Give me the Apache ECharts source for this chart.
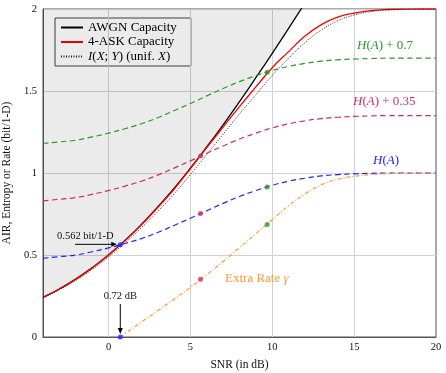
<!DOCTYPE html>
<html>
<head>
<meta charset="utf-8">
<script src="https://cdn.jsdelivr.net/npm/echarts@6/dist/echarts.min.js"></script>
<style>html,body{margin:0;padding:0;background:#fff;}#c{width:446px;height:373px;}</style>
</head>
<body>
<div id="c"></div>
<script>
// ---- data ----
const snr = [-4,-3,-2,-1,0,1,2,3,4,5,6,7,8,9,10,11,12,13,14,15,16,17,18,19,20];
const awgnSnr = [-4,-3,-2,-1,0,1,2,3,4,5,6,7,8,9,10,11,12];
const awgnCap = [0.242,0.293,0.353,0.422,0.500,0.588,0.685,0.792,0.906,1.029,1.159,1.294,1.435,1.581,1.730,1.882,2.037];
const askCap = [0.242,0.293,0.352,0.421,0.499,0.586,0.683,0.789,0.900,1.027,1.155,1.280,1.405,1.525,1.642,1.740,1.835,1.905,1.950,1.975,1.990,1.997,1.999,2.0,2.0];
const unifMI = [0.238,0.288,0.345,0.412,0.488,0.573,0.665,0.765,0.872,0.990,1.112,1.237,1.360,1.478,1.595,1.700,1.795,1.872,1.928,1.963,1.984,1.994,1.998,2.0,2.0];
const hA = [0.48,0.49,0.50,0.52,0.543,0.57,0.60,0.637,0.68,0.724,0.77,0.815,0.857,0.893,0.925,0.95,0.968,0.982,0.99,0.995,0.998,1.0,1.0,1.0,1.0];
const hA035 = [0.83,0.84,0.85,0.87,0.893,0.92,0.95,0.987,1.03,1.074,1.12,1.165,1.207,1.243,1.275,1.30,1.318,1.332,1.34,1.345,1.348,1.35,1.35,1.35,1.35];
const hA07 = [1.18,1.19,1.20,1.22,1.243,1.27,1.30,1.337,1.38,1.424,1.47,1.515,1.557,1.593,1.625,1.65,1.668,1.682,1.69,1.695,1.698,1.70,1.70,1.70,1.70];
const gammaSnr = [0.72,1,2,3,4,5,6,7,8,9,10,11,12,13,14,15,16,17,18,19,20];
const gamma = [0,0.02,0.09,0.16,0.23,0.303,0.38,0.46,0.545,0.63,0.715,0.80,0.872,0.928,0.962,0.98,0.99,0.996,0.999,1.0,1.0];
const dotX = [0.72,0.72,5.62,5.62,5.62,9.69,9.69,9.69];
const dotY = [0.562,0,0.753,0.352,1.103,0.915,0.686,1.615];
const xTicks = [0,5,10,15,20];
const yTicks = [0,0.5,1,1.5,2];
const legendNames = ['AWGN Capacity','4-ASK Capacity','I(X;Y) (unif. X)'];

// ---- styling ----
const FONT = '"Liberation Serif","DejaVu Serif",serif';
const BLUE = '#2222ff', CRIMSON = '#cc2f62', GREEN = '#2e962e', ORANGE = '#ff9933', RED = '#ff0000';
const GRIDC = '#d2d2d2';
const dotColors = [BLUE, BLUE, CRIMSON, CRIMSON, CRIMSON, GREEN, GREEN, GREEN];

const pairs = (xs, ys) => xs.map((x, i) => [x, ys[i]]);

const chart = echarts.init(document.getElementById('c'), null, {renderer: 'canvas'});

const baseLine = {type: 'line', symbol: 'none', smooth: true, animation: false, clip: true};

const option = {
  animation: false,
  backgroundColor: '#fff',
  grid: {left: 43, top: 9, right: 10, bottom: 36, show: true, borderColor: '#555', borderWidth: 1,
    backgroundColor: 'transparent', containLabel: false, outerBoundsMode: 'none'},
  xAxis: {
    type: 'value', min: -4, max: 20,
    name: 'SNR (in dB)', nameLocation: 'middle', nameGap: 22,
    nameTextStyle: {fontFamily: FONT, fontSize: 11.5, color: '#111'},
    axisLine: {show: true, onZero: false, lineStyle: {color: '#555'}},
    axisTick: {show: false, customValues: xTicks},
    axisLabel: {fontFamily: FONT, fontSize: 10.5, color: '#111', margin: 5, customValues: xTicks},
    splitLine: {show: false}
  },
  yAxis: {
    type: 'value', min: 0, max: 2, interval: 0.5,
    name: 'AIR, Entropy or Rate (bit/1-D)', nameLocation: 'middle', nameGap: 30,
    nameTextStyle: {fontFamily: FONT, fontSize: 11.5, color: '#111'},
    axisLine: {show: true, onZero: false, lineStyle: {color: '#555'}},
    axisTick: {show: false},
    axisLabel: {fontFamily: FONT, fontSize: 10.5, color: '#111', margin: 6,
      formatter: v => yTicks.includes(v) ? String(v) : ''},
    splitLine: {show: true, lineStyle: {color: GRIDC, width: 1}}
  },
  legend: {
    data: legendNames,
    orient: 'vertical', left: 55, top: 18,
    padding: [3, 14, 3, 5], itemGap: 1.5, itemWidth: 22, itemHeight: 12,
    backgroundColor: '#fff', borderColor: '#444', borderWidth: 1, borderRadius: 0,
    selectedMode: false,
    itemStyle: {opacity: 0},
    textStyle: {fontFamily: FONT, fontSize: 13, color: '#000', lineHeight: 13,
      rich: {it: {fontFamily: FONT, fontSize: 13, fontStyle: 'italic', color: '#000'}}},
    formatter: name => name === legendNames[2] ? '{it|I}({it|X}; {it|Y}) (unif. {it|X})' : name
  },
  series: [
    {type: 'line', name: 'xgrid', data: [], z: 1, silent: true, animation: false,
      markLine: {silent: true, symbol: 'none', label: {show: false}, animation: false,
        lineStyle: {color: GRIDC, type: 'solid', width: 1},
        data: xTicks.slice(0, 4).map(v => ({xAxis: v}))}},
    Object.assign({}, baseLine, {name: legendNames[0], data: pairs(awgnSnr, awgnCap), z: 5,
      lineStyle: {color: '#000', width: 1.3},
      itemStyle: {color: '#000'},
      areaStyle: {origin: 'end', color: 'rgba(0,0,0,0.11)'}}),
    Object.assign({}, baseLine, {name: legendNames[1], data: pairs(snr, askCap), z: 6,
      lineStyle: {color: RED, width: 1.3}, itemStyle: {color: RED}}),
    Object.assign({}, baseLine, {name: legendNames[2], data: pairs(snr, unifMI), z: 6,
      lineStyle: {color: '#222', width: 1, type: [1, 1.5]}, itemStyle: {color: '#222'}}),
    Object.assign({}, baseLine, {name: 'H(A)', data: pairs(snr, hA), z: 7,
      lineStyle: {color: BLUE, width: 1.2, type: [5.5, 3.5]}}),
    Object.assign({}, baseLine, {name: 'H(A)+0.35', data: pairs(snr, hA035), z: 7,
      lineStyle: {color: CRIMSON, width: 1.2, type: [5.5, 3.5]}}),
    Object.assign({}, baseLine, {name: 'H(A)+0.7', data: pairs(snr, hA07), z: 7,
      lineStyle: {color: GREEN, width: 1.2, type: [5.5, 3.5]}}),
    Object.assign({}, baseLine, {name: 'gamma', data: pairs(gammaSnr, gamma), z: 7,
      lineStyle: {color: ORANGE, width: 1.2, type: [4, 2, 1, 2]}}),
    {type: 'scatter', name: 'dots', symbolSize: 5, z: 10, animation: false,
      data: dotX.map((x, i) => ({value: [x, dotY[i]], itemStyle: {color: dotColors[i]}}))}
  ]
};
chart.setOption(option);

// ---- annotations ----
const p = (x, y) => chart.convertToPixel({gridIndex: 0}, [x, y]);
const mathText = (txt, px, py, color, align) => ({
  type: 'text', z: 20,
  style: {text: txt, x: px, y: py, fill: color, align: align || 'left', verticalAlign: 'middle',
    font: '13px ' + FONT,
    rich: {it: {fontStyle: 'italic', fill: color, font: 'italic 13px ' + FONT}}}
});
const d1 = p(0.72, 0.562), d0 = p(0.72, 0);
chart.setOption({
  graphic: [
    mathText('{it|H}({it|A}) + 0.7', 357, 46, GREEN),
    mathText('{it|H}({it|A}) + 0.35', 353, 102, CRIMSON),
    mathText('{it|H}({it|A})', 373, 161, BLUE),
    mathText('Extra Rate {it|γ}', 225, 279, ORANGE),
    {type: 'text', z: 20, style: {text: '0.562 bit/1-D', x: 57, y: d1[1] - 9, fill: '#111', font: '10.5px ' + FONT, verticalAlign: 'middle'}},
    {type: 'line', z: 20, shape: {x1: 75, y1: d1[1] - 0.5, x2: d1[0] - 8, y2: d1[1] - 0.5}, style: {stroke: '#000', lineWidth: 1}},
    {type: 'polygon', z: 20, shape: {points: [[d1[0] - 3.5, d1[1] - 0.5], [d1[0] - 9, d1[1] - 3], [d1[0] - 9, d1[1] + 2]]}, style: {fill: '#000'}},
    {type: 'text', z: 20, style: {text: '0.72 dB', x: d0[0], y: 296, fill: '#111', font: '10.5px ' + FONT, align: 'center', verticalAlign: 'middle'}},
    {type: 'line', z: 20, shape: {x1: d0[0], y1: 304, x2: d0[0], y2: d0[1] - 7}, style: {stroke: '#000', lineWidth: 1}},
    {type: 'polygon', z: 20, shape: {points: [[d0[0], d0[1] - 3], [d0[0] - 2.5, d0[1] - 9], [d0[0] + 2.5, d0[1] - 9]]}, style: {fill: '#000'}}
  ]
});
</script>
</body>
</html>
